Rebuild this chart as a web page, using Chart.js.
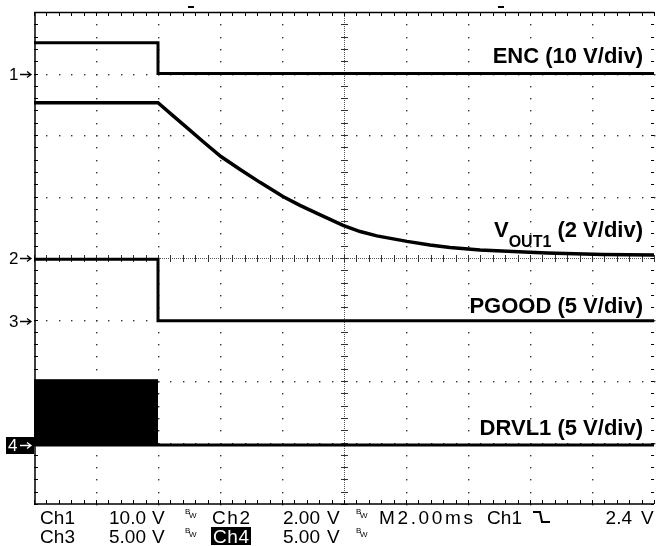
<!DOCTYPE html>
<html>
<head>
<meta charset="utf-8">
<title>ENC shutdown waveforms</title>
<script src="https://cdn.jsdelivr.net/npm/chart.js@4.4.1/dist/chart.umd.min.js"></script>
<style>
    html, body { margin: 0; padding: 0; background: #fff; }
    #scope { display: block; }
</style>
</head>
<body>
<canvas id="scope" width="656" height="546"></canvas>
<script>
// time base: 2 ms/div, trigger two divisions in from the left
const timeMin = -4;
const timeMax = 16;
const msPerDiv = 2;

// channel setup: volts per division and ground level in divisions from centre
const channelNames = ['ENC (10 V/div)', 'VOUT1 (2 V/div)', 'PGOOD (5 V/div)', 'DRVL1 (5 V/div)'];
const voltsPerDiv = [10, 2, 5, 5];
const offsetDiv = [3, 0, -1.02, -3.04];

// waveforms, time in ms and level in volts
const encTime = [-4, 0, 0, 16];
const encVolts = [5, 5, 0, 0];

const voutTime = [-4, 0, 0.48, 0.97, 1.45, 2.03, 2.65, 3.29, 4.03, 4.58, 5.13, 5.97, 6.52, 7.06, 8.03, 8.77, 9.42, 10.39, 11.45, 12.55, 14.35, 16];
const voutVolts = [5.05, 5.05, 4.63, 4.21, 3.79, 3.30, 2.88, 2.46, 2.00, 1.71, 1.45, 1.06, 0.86, 0.72, 0.54, 0.42, 0.34, 0.26, 0.21, 0.16, 0.11, 0.10];

const pgoodTime = [-4, 0, 0, 16];
const pgoodVolts = [5, 5, 0, 0];

const drvlTime = [-4, 16];
const drvlVolts = [0, 0];
// DRVL1 is switching before the trigger; shown as a solid band
const burstTime = [-4, 0];
const burstVolts = [5.3, 5.3];

// small position marks above the top edge
const topMarks = [1.05, 11.05];

const FONT = '"Liberation Sans", Arial, Helvetica, sans-serif';

function toPoints(times, volts, ch) {
    return times.map((t, i) => ({ x: t, y: offsetDiv[ch] + volts[i] / voltsPerDiv[ch] }));
}

function trace(label, data, extra) {
    return Object.assign({
        label: label,
        data: data,
        borderColor: '#000',
        borderWidth: 3,
        pointRadius: 0,
        tension: 0,
        fill: false
    }, extra || {});
}

const graticule = {
    id: 'graticule',
    beforeDatasetsDraw(chart) {
        const { ctx, chartArea: a, scales: { x, y } } = chart;
        const xs = [], ys = [];
        for (let i = 0; i <= 50; i++) xs.push(Math.round(x.getPixelForValue(timeMin + i * msPerDiv / 5)));
        for (let i = 0; i <= 40; i++) ys.push(Math.round(y.getPixelForValue(-4 + i * 0.2)));
        const left = Math.round(a.left), right = Math.round(a.right);
        const top = Math.round(a.top), bottom = Math.round(a.bottom);
        const cx = Math.round(x.getPixelForValue(timeMin + 5 * msPerDiv));
        const cy = Math.round(y.getPixelForValue(0));

        ctx.save();
        ctx.fillStyle = '#333';
        // dotted division lines
        for (let d = 1; d < 10; d++) {
            if (d === 5) continue;
            const px = Math.round(x.getPixelForValue(timeMin + d * msPerDiv));
            ys.forEach(py => ctx.fillRect(px, py, 1.4, 1.4));
        }
        for (let d = 1; d < 8; d++) {
            if (d === 4) continue;
            const py = Math.round(y.getPixelForValue(-4 + d));
            xs.forEach(px => ctx.fillRect(px, py, 1.4, 1.4));
        }

        // centre cross with minor ticks
        ctx.strokeStyle = '#555';
        ctx.lineWidth = 1;
        ctx.setLineDash([1, 1]);
        ctx.beginPath();
        ctx.moveTo(left, cy + 0.5); ctx.lineTo(right, cy + 0.5);
        ctx.moveTo(cx + 0.5, top); ctx.lineTo(cx + 0.5, bottom);
        ctx.stroke();
        ctx.setLineDash([]);
        xs.forEach(px => ctx.fillRect(px, cy - 3, 1, 7));
        ys.forEach(py => ctx.fillRect(cx - 3, py, 7, 1));

        // frame ticks
        ctx.fillStyle = '#000';
        xs.forEach(px => {
            ctx.fillRect(px, top, 1, 4);
            ctx.fillRect(px, bottom - 4, 1, 4);
        });
        ys.forEach(py => {
            ctx.fillRect(left, py, 4, 1);
            ctx.fillRect(right - 3, py, 3, 1);
        });

        // frame
        ctx.strokeStyle = '#000';
        ctx.lineWidth = 1.5;
        ctx.beginPath();
        ctx.moveTo(right, top + 0.5); ctx.lineTo(left + 1, top + 0.5);
        ctx.lineTo(left + 1, bottom); ctx.lineTo(right, bottom);
        ctx.stroke();
        ctx.restore();
    }
};

function drawArrow(ctx, x0, x1, yc, color) {
    ctx.strokeStyle = color;
    ctx.lineWidth = 1.3;
    ctx.beginPath();
    ctx.moveTo(x0, yc); ctx.lineTo(x1, yc);
    ctx.moveTo(x1 - 4, yc - 3); ctx.lineTo(x1, yc); ctx.lineTo(x1 - 4, yc + 3);
    ctx.stroke();
}

// draws a string from x0, spreading its letters out to reach x1 when there is room
function drawSpread(ctx, text, x0, x1, yb) {
    const chars = [...text];
    const widths = chars.map(c => ctx.measureText(c).width);
    const total = widths.reduce((s, w) => s + w, 0);
    const gap = chars.length > 1 ? Math.max(0, (x1 - x0 - total) / (chars.length - 1)) : 0;
    let px = x0;
    chars.forEach((c, i) => {
        ctx.fillText(c, px, yb);
        px += widths[i] + gap;
    });
}

// a value right-aligned in its field, followed by the unit
function drawReading(ctx, value, valueRight, unitX, yb) {
    ctx.textAlign = 'right';
    ctx.fillText(value, valueRight, yb);
    ctx.textAlign = 'left';
    ctx.fillText('V', unitX, yb);
}

function drawBw(ctx, x, yb) {
    ctx.font = '8px ' + FONT;
    ctx.fillText('B', x, yb - 10);
    ctx.fillText('W', x + 4, yb - 6);
}

const annotations = {
    id: 'annotations',
    afterDatasetsDraw(chart) {
        const { ctx, chartArea: a, scales: { x, y } } = chart;
        ctx.save();
        ctx.textBaseline = 'alphabetic';
        ctx.textAlign = 'left';

        // channel ground markers
        ctx.font = '17px ' + FONT;
        offsetDiv.forEach((off, ch) => {
            const yc = Math.round(y.getPixelForValue(off));
            if (ch === 3) {
                ctx.fillStyle = '#000';
                ctx.fillRect(6, yc - 8, a.left - 6, 17);
                ctx.fillStyle = '#fff';
                ctx.fillText(String(ch + 1), 8, yc + 6);
                drawArrow(ctx, 20, 31, yc + 0.5, '#fff');
            } else {
                ctx.fillStyle = '#000';
                ctx.fillText(String(ch + 1), 9, yc + 6);
                drawArrow(ctx, 20, 31, yc + 0.5, '#000');
            }
        });

        // trace labels
        ctx.fillStyle = '#000';
        ctx.textAlign = 'right';
        const labelRight = 643;
        ctx.font = 'bold 22px ' + FONT;
        ctx.fillText(channelNames[0], labelRight, 63);
        ctx.fillText(channelNames[2], labelRight, 313);
        ctx.fillText(channelNames[3], labelRight, 435);

        // V with OUT1 subscript
        const tail = ' (2 V/div)';
        const tailW = ctx.measureText(tail).width;
        ctx.fillText(tail, labelRight, 237);
        ctx.font = 'bold 16px ' + FONT;
        const subW = ctx.measureText('OUT1').width;
        ctx.fillText('OUT1', labelRight - tailW, 247);
        ctx.font = 'bold 22px ' + FONT;
        ctx.fillText('V', labelRight - tailW - subW, 237);

        // marks above the graticule
        topMarks.forEach(t => {
            const px = Math.round(x.getPixelForValue(t));
            ctx.fillRect(px - 3, 6, 6, 2);
        });

        // scope readout
        ctx.textAlign = 'left';
        ctx.font = '19px ' + FONT;
        const r1 = 524, r2 = 543;
        drawSpread(ctx, 'Ch1', 40, 75, r1);
        drawReading(ctx, '10.0', 146, 152, r1);
        drawSpread(ctx, 'Ch2', 212, 250, r1);
        drawReading(ctx, '2.00', 320, 327, r1);
        drawSpread(ctx, 'M2.00ms', 379, 473, r1);
        drawSpread(ctx, 'Ch1', 487, 522, r1);
        drawReading(ctx, '2.4', 632, 641, r1);

        drawSpread(ctx, 'Ch3', 40, 75, r2);
        drawReading(ctx, '5.00', 146, 152, r2);
        ctx.fillRect(211, 527, 40, 18);
        ctx.fillStyle = '#fff';
        drawSpread(ctx, 'Ch4', 213, 249, r2);
        ctx.fillStyle = '#000';
        drawReading(ctx, '5.00', 320, 327, r2);

        drawBw(ctx, 185, r1);
        drawBw(ctx, 356, r1);
        drawBw(ctx, 185, r2);
        drawBw(ctx, 356, r2);

        // falling-edge trigger symbol
        ctx.strokeStyle = '#000';
        ctx.lineWidth = 2;
        ctx.beginPath();
        ctx.moveTo(533, 512); ctx.lineTo(540, 512);
        ctx.lineTo(542, 522); ctx.lineTo(550, 522);
        ctx.stroke();

        ctx.restore();
    }
};

new Chart(document.getElementById('scope'), {
    type: 'line',
    data: {
        datasets: [
            trace('ENC', toPoints(encTime, encVolts, 0)),
            trace('VOUT1', toPoints(voutTime, voutVolts, 1), { borderWidth: 3.5 }),
            trace('PGOOD', toPoints(pgoodTime, pgoodVolts, 2)),
            trace('DRVL1', toPoints(drvlTime, drvlVolts, 3)),
            trace('DRVL1 switching', toPoints(burstTime, burstVolts, 3), {
                borderWidth: 1,
                backgroundColor: '#000',
                fill: { value: offsetDiv[3] }
            })
        ]
    },
    options: {
        responsive: false,
        animation: false,
        devicePixelRatio: 1,
        layout: { padding: { left: 34, top: 12, right: 2, bottom: 42 } },
        scales: {
            x: { type: 'linear', min: timeMin, max: timeMax, display: false },
            y: { type: 'linear', min: -4, max: 4, display: false }
        },
        plugins: {
            legend: { display: false },
            tooltip: { enabled: false }
        }
    },
    plugins: [graticule, annotations]
});
</script>
</body>
</html>
